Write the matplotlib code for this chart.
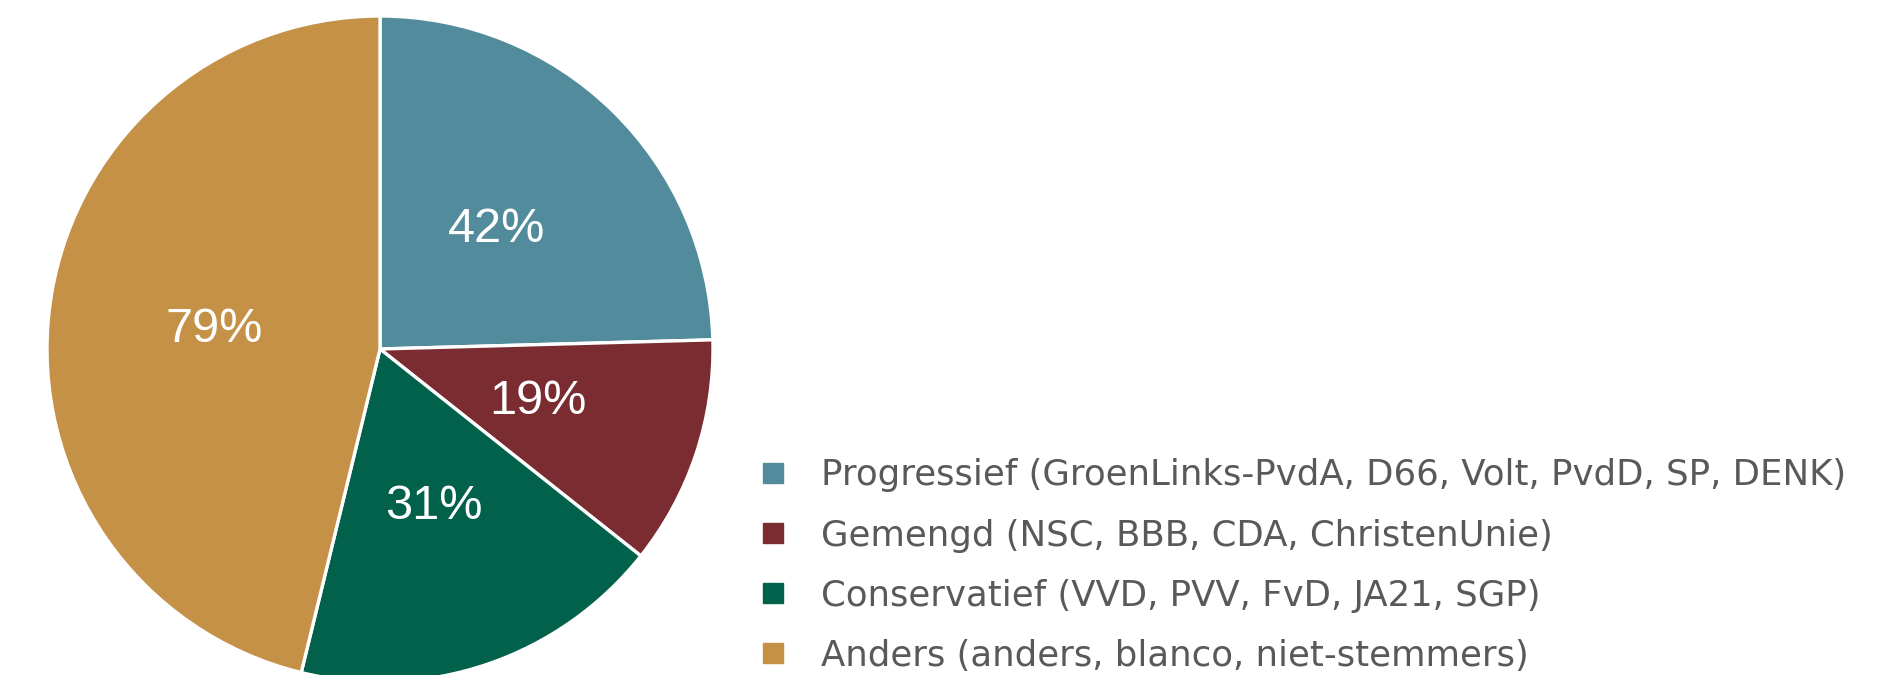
import matplotlib
matplotlib.use("Agg")
import matplotlib.pyplot as plt
from matplotlib.lines import Line2D

categories = [
    "Progressief (GroenLinks-PvdA, D66, Volt, PvdD, SP, DENK)",
    "Gemengd (NSC, BBB, CDA, ChristenUnie)",
    "Conservatief (VVD, PVV, FvD, JA21, SGP)",
    "Anders (anders, blanco, niet-stemmers)",
]
values = [42, 19, 31, 79]
value_labels = ["42%", "19%", "31%", "79%"]
colors = ["#528B9C", "#7A2C31", "#01614A", "#C49147"]

W, H, DPI = 1880, 675, 100
fig = plt.figure(figsize=(W / DPI, H / DPI), dpi=DPI)

cx, cy, r = 380, 349, 333
ax = fig.add_axes([(cx - r) / W, (H - cy - r) / H, 2 * r / W, 2 * r / H])
wedges, texts = ax.pie(
    values,
    labels=value_labels,
    colors=colors,
    startangle=90,
    counterclock=False,
    labeldistance=0.5,
    wedgeprops=dict(edgecolor="white", linewidth=2.4),
    textprops=dict(color="white", fontsize=35, family="Liberation Sans"),
    radius=1,
)
for t in texts:
    t.set_horizontalalignment("center")
    t.set_verticalalignment("center")
ax.set_xlim(-1, 1)
ax.set_ylim(-1, 1)
ax.set_aspect("equal")
ax.axis("off")

handles = [
    Line2D([0], [0], marker="s", linestyle="none", markersize=15,
           markerfacecolor=c, markeredgecolor=c)
    for c in colors
]
leg = fig.legend(
    handles, categories,
    loc="upper left",
    bbox_to_anchor=(756 / W, (H - 458.5) / H),
    frameon=False,
    prop=dict(family="DejaVu Sans", size=25.6),
    handlelength=0.96,
    handletextpad=0.87,
    labelspacing=0.735,
    borderaxespad=0,
    borderpad=0,
)
for t in leg.get_texts():
    t.set_color("#595959")

fig.savefig("out.png", dpi=DPI)
